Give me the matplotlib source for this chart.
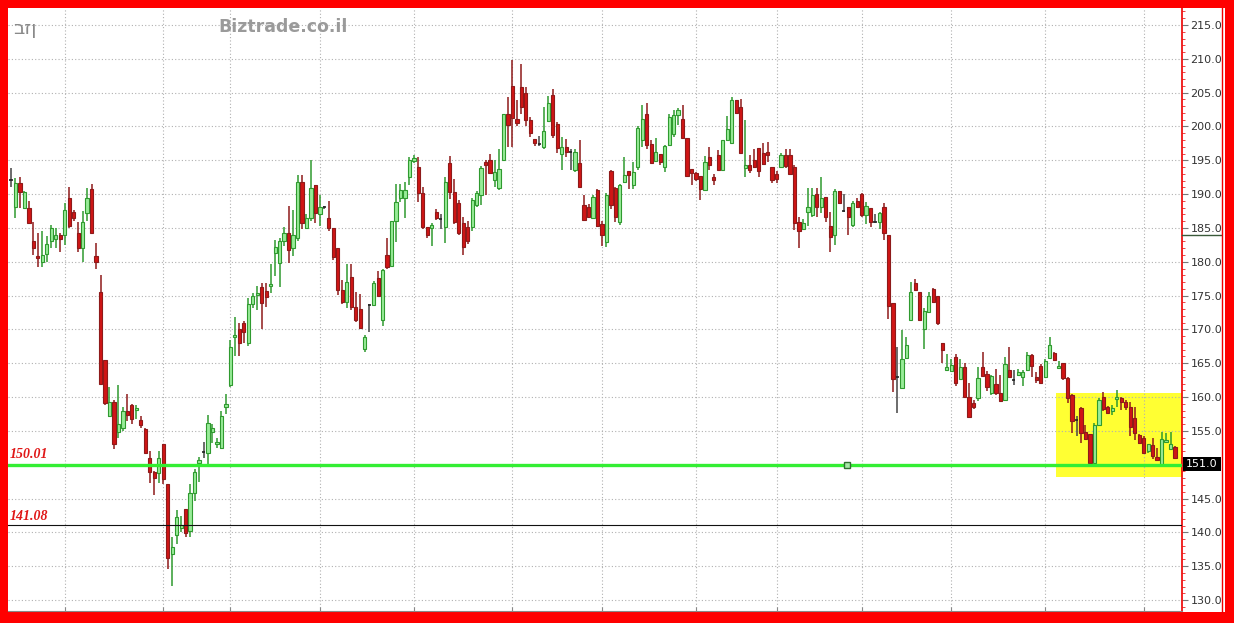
import matplotlib
matplotlib.use('Agg')
import matplotlib.pyplot as plt
from matplotlib.patches import Rectangle
from matplotlib.lines import Line2D
import matplotlib.transforms as mtransforms
import numpy as np

# ---------------- data ----------------
title_he = "בזן"
site = "Biztrade.co.il"
support_level = 150.01
low_level = 141.08
last_label = "151.0"
axis_marker_level = 184.0
box_range = (233.4, 148.2, 160.6)   # start index, low, high of highlighted zone

opens = [192.1,188.1,191.6,188.0,188.0,183.0,180.9,180.0,181.2,183.0,183.3,184.0,184.0,189.4,187.4,184.3,182.0,187.2,190.8,180.8,
         175.5,165.5,157.2,159.3,154.8,155.5,158.0,158.8,158.1,156.6,155.3,151.0,148.9,148.8,153.0,147.1,136.8,139.6,140.6,143.5,
         140.2,145.8,150.3,151.9,151.7,154.9,153.0,152.5,158.5,161.8,168.9,170.0,171.0,168.0,173.8,175.1,176.3,175.7,176.4,181.3,
         179.8,183.0,184.3,182.0,183.5,191.8,185.0,186.5,191.3,187.0,188.1,186.5,185.0,182.0,175.8,174.0,177.8,173.3,173.0,167.1,
         173.6,173.6,177.6,171.4,181.0,179.4,186.0,189.4,189.4,192.5,194.9,194.0,190.2,185.1,185.0,187.4,186.3,185.1,194.6,190.3,
         188.7,185.7,185.1,185.1,188.4,189.9,194.8,195.0,192.1,190.9,195.0,201.8,206.0,201.1,205.8,205.0,201.0,198.1,197.4,196.9,
         200.8,204.7,200.4,196.0,197.0,196.2,193.6,194.6,188.4,188.1,186.5,190.6,185.6,182.9,193.4,190.9,185.9,191.8,193.4,191.3,
         194.0,198.0,201.8,197.4,194.9,196.0,194.0,197.3,198.9,201.7,201.1,198.3,193.7,193.1,192.7,190.6,195.5,192.5,195.8,193.6,
         198.0,197.6,203.9,202.9,193.9,194.3,195.0,196.8,196.1,196.2,194.0,193.0,194.0,195.8,195.8,194.0,185.9,184.8,187.4,186.9,
         190.0,188.1,189.6,185.3,184.0,190.5,187.5,188.1,185.4,189.0,190.0,186.9,187.9,185.9,185.9,188.1,184.0,173.9,163.0,161.3,
         165.8,171.4,176.9,175.5,170.0,172.6,176.0,175.0,168.0,164.0,163.9,165.9,162.7,164.4,160.0,159.1,159.9,164.4,163.4,160.6,
         162.0,160.6,159.6,164.0,162.5,163.3,163.0,164.0,166.2,163.0,164.6,163.0,165.8,166.5,164.3,165.0,162.8,160.3,156.6,158.4,
         154.8,154.5,150.3,155.9,160.0,158.5,158.0,159.7,159.9,159.3,158.5,156.9,154.4,154.0,152.0,152.9,151.1,150.0,153.4,152.3,
         152.6]
highs = [193.9,192.4,192.5,190.5,189.0,185.9,184.3,184.5,183.8,185.5,185.0,184.2,188.7,191.0,187.6,185.9,187.5,190.9,191.5,182.8,
         178.0,165.5,161.5,159.5,161.8,158.6,160.5,159.0,158.8,157.2,155.5,152.0,149.0,152.0,153.0,147.1,139.3,143.3,142.4,143.5,
         147.2,149.4,151.2,153.4,157.4,156.0,154.0,157.9,160.5,168.5,171.9,171.0,171.2,174.7,175.4,176.4,176.9,176.9,179.6,183.2,
         183.5,185.2,188.3,187.7,192.8,192.8,187.0,195.0,191.3,189.8,188.3,189.0,185.0,182.0,177.3,179.7,179.7,175.5,175.3,169.2,
         173.8,177.1,178.6,179.0,183.5,186.1,191.5,191.5,191.8,195.5,195.8,195.5,191.0,185.1,185.7,187.8,187.0,192.5,195.6,192.3,
         189.1,186.6,186.1,189.4,190.5,194.1,195.1,196.0,195.1,196.6,201.8,204.3,209.8,203.9,209.3,205.9,201.4,198.1,198.6,202.9,
         204.5,205.6,200.6,198.5,198.2,196.7,196.7,198.0,189.8,188.5,189.8,190.8,186.1,190.1,193.5,191.1,191.5,195.5,193.4,194.7,
         200.1,203.2,203.5,198.0,198.3,196.0,197.2,201.9,202.4,202.7,203.1,198.3,193.7,193.3,192.7,195.7,196.9,193.0,196.5,198.0,
         201.5,204.3,203.9,204.0,200.9,195.8,196.7,196.8,197.5,197.7,194.0,193.4,196.1,196.7,196.7,194.3,186.6,186.3,190.9,190.9,
         190.9,192.5,189.6,187.4,190.8,190.5,190.0,188.1,189.0,189.4,190.1,188.8,187.9,187.1,187.4,188.7,184.0,173.9,167.4,169.9,
         168.9,177.0,177.4,175.6,173.1,175.6,176.1,175.0,168.0,166.3,165.6,166.3,165.6,165.0,162.1,159.5,164.4,166.6,163.9,163.2,
         164.1,163.3,165.9,167.4,164.0,164.2,164.0,166.7,166.4,163.7,164.9,165.6,168.9,166.6,165.4,165.1,162.9,160.5,157.2,158.6,
         155.9,154.6,156.2,159.8,160.7,158.7,158.9,161.0,160.0,159.5,159.2,158.5,154.6,154.3,153.1,153.9,152.5,154.9,154.7,154.8,
         152.7]
lows = [191.1,186.5,188.0,187.8,185.8,181.0,179.2,179.3,180.0,182.0,182.0,181.5,182.5,185.0,186.0,181.5,180.0,186.0,184.2,179.0,
        162.0,158.8,157.0,152.3,154.0,155.0,156.5,156.0,156.8,155.5,151.7,147.3,145.5,147.3,147.2,134.6,132.1,138.3,140.1,139.3,
        139.3,144.7,147.5,151.0,150.0,153.2,152.5,152.3,157.5,161.5,166.0,166.1,168.0,167.5,173.2,172.9,170.0,173.3,175.4,177.9,
        176.3,182.3,179.8,180.8,183.0,184.9,184.8,186.0,185.8,185.3,187.8,184.6,180.2,175.1,173.7,173.2,172.8,171.1,170.0,166.6,
        169.6,173.4,174.9,170.5,178.9,179.3,182.9,188.9,186.4,191.4,194.6,188.8,184.8,183.5,182.4,186.2,184.9,182.8,189.3,185.6,
        184.0,181.0,182.7,184.6,188.1,188.4,189.9,193.0,191.1,190.6,195.0,197.0,197.0,200.1,201.9,200.1,198.5,197.1,197.1,196.7,
        200.6,198.3,196.1,193.6,195.5,193.5,193.3,191.0,186.0,186.4,186.3,185.2,182.3,182.2,187.8,185.9,185.5,191.6,190.7,190.8,
        193.6,196.9,196.6,194.6,194.8,194.3,193.2,197.1,198.4,200.2,198.1,192.7,191.3,192.0,189.1,190.6,193.6,191.3,193.5,193.4,
        197.8,197.4,201.8,196.0,192.5,193.1,193.8,192.6,194.3,194.8,191.6,191.6,193.9,193.9,192.9,184.7,182.0,184.7,185.3,186.6,
        186.6,187.2,185.9,181.4,182.5,188.5,187.3,183.9,185.1,188.0,186.6,185.6,185.2,185.8,184.8,183.2,171.5,160.8,157.6,161.3,
        165.6,171.4,175.7,171.4,167.1,172.6,173.9,170.6,165.1,164.0,163.8,161.6,162.7,160.0,157.1,158.3,159.4,163.1,160.9,160.3,
        160.3,159.4,159.6,162.8,161.8,163.1,161.6,163.9,162.9,162.1,162.0,162.8,165.7,165.4,164.3,162.5,159.1,154.7,154.3,153.2,
        153.7,149.6,150.2,155.8,157.9,157.5,157.3,158.5,158.1,158.1,154.2,153.7,153.0,151.6,151.8,150.9,150.5,149.7,153.3,152.2,
        151.0]
closes = [192.1,191.6,190.3,190.3,185.8,182.0,180.6,181.0,182.6,185.0,184.0,183.3,187.7,185.3,186.5,182.0,185.9,189.4,184.3,180.0,
          162.0,159.1,159.3,153.0,156.0,158.0,157.4,156.8,158.4,155.9,151.7,148.9,148.0,151.0,147.9,136.2,137.8,142.3,141.1,139.9,
          145.8,148.9,150.7,151.9,156.2,155.4,153.4,157.2,159.0,167.4,169.2,168.0,169.6,173.8,175.0,175.4,173.9,174.8,176.7,182.2,
          183.0,184.3,181.7,184.0,191.8,185.7,186.5,190.9,187.2,188.1,188.1,185.0,180.7,175.8,174.0,177.0,173.3,171.4,170.2,168.9,
          173.6,176.9,175.0,178.8,179.2,186.0,188.8,190.6,190.6,195.0,195.3,190.2,185.1,184.0,185.4,186.5,186.3,191.8,190.3,185.9,
          184.3,182.2,183.0,189.1,190.2,193.9,194.3,193.1,193.3,193.7,201.8,200.2,201.2,200.5,202.9,201.0,199.0,197.6,197.4,199.3,
          203.5,198.7,196.8,197.0,196.2,196.2,196.2,191.0,186.2,186.6,189.6,185.3,184.0,189.9,188.4,186.6,191.3,192.8,192.8,193.3,
          199.8,201.1,197.3,194.6,196.2,194.8,197.1,201.4,201.7,202.4,198.3,192.7,193.1,192.2,190.8,194.8,194.3,192.1,193.6,198.0,
          199.6,203.9,202.0,196.1,194.3,193.6,194.0,193.4,194.5,195.8,192.1,192.2,195.8,194.2,193.0,185.7,184.5,185.7,188.1,189.9,
          188.1,189.4,186.6,183.7,190.5,188.7,187.5,186.6,188.7,188.1,186.9,188.2,185.9,185.9,187.2,184.3,173.5,162.6,163.0,165.6,
          167.7,175.5,175.8,171.4,172.7,175.0,174.1,171.0,167.0,164.4,164.7,162.1,164.4,160.0,157.1,158.5,162.8,163.1,161.5,163.1,
          160.6,159.4,164.9,163.0,162.5,163.7,163.7,166.2,164.6,162.5,162.1,165.3,167.7,165.5,164.6,162.8,159.8,156.5,156.6,154.7,
          153.8,150.3,155.9,159.6,158.2,157.7,158.4,160.0,159.3,158.5,155.6,154.7,153.2,151.7,153.0,151.3,150.7,153.8,153.7,153.1,
          151.0]
month_starts = [12, 34, 49, 69, 90, 112, 132, 153, 171, 190, 210, 231, 253]
y_ticks = list(range(130, 216, 5))
hidden_tick = 150   # covered by the last-price box

# ---------------- figure ----------------
W, H = 1234, 623
fig = plt.figure(figsize=(W / 100, H / 100), dpi=100)
fig.patch.set_facecolor('#ff0000')
fig.add_artist(Rectangle((8 / W, 11 / H), (1225 - 8) / W, (615 - 11) / H,
                         transform=fig.transFigure, facecolor='white',
                         edgecolor='none', zorder=0))
ax = fig.add_axes([8 / W, 12 / H, (1182 - 8) / W, (615 - 12) / H])
ax.set_facecolor('white')

n = len(closes)
x = np.arange(n)
o = np.array(opens); h = np.array(highs); l = np.array(lows); c = np.array(closes)

ax.set_xlim(-0.67, 261.56)
ax.set_ylim(128.38, 217.51)

# highlight zone
bx, blo, bhi = box_range
ax.add_patch(Rectangle((bx, blo), 261.56 - bx, bhi - blo, facecolor='#ffff33',
                       edgecolor='none', zorder=0.2))

# grid
ax.set_yticks(y_ticks)
ax.set_xticks(month_starts)
ax.grid(True, color='#b0b0b0', linestyle=(0, (1, 2)), linewidth=0.8, zorder=0.5)
ax.set_axisbelow(True)

up = c > o
down = c < o
flat = c == o
up_face, up_edge = '#98ec98', '#2f9a2f'
dn_face, dn_edge = '#d01515', '#8e1a1a'

ax.vlines(x[up], l[up], h[up], color=up_edge, linewidth=1.1, zorder=2)
ax.vlines(x[down], l[down], h[down], color=dn_edge, linewidth=1.1, zorder=2)
ax.vlines(x[flat], l[flat], h[flat], color='#444444', linewidth=1.1, zorder=2)
bw = 0.72
ax.bar(x[up], (c - o)[up], bottom=o[up], width=bw, color=up_face,
       edgecolor=up_edge, linewidth=0.8, zorder=3)
ax.bar(x[down], (o - c)[down], bottom=c[down], width=bw, color=dn_face,
       edgecolor=dn_edge, linewidth=0.8, zorder=3)
ax.hlines(c[flat], x[flat] - bw / 2, x[flat] + bw / 2, color='#222222',
          linewidth=1.2, zorder=3)

# horizontal levels
ax.axhline(support_level, color='#33ee33', linewidth=2.4, zorder=4)
ax.axhline(low_level, color='#111111', linewidth=0.8, zorder=4)
ax.plot([186.7], [support_level], marker='s', markersize=5,
        markerfacecolor='#a8e8a8', markeredgecolor='#2f6f2f', zorder=5)

# axes styling
for s in ['left', 'top']:
    ax.spines[s].set_visible(False)
ax.spines['bottom'].set_color('#888888')
ax.spines['bottom'].set_linewidth(0.8)
ax.spines['right'].set_color('#ee0000')
ax.spines['right'].set_linewidth(1.2)
ax.yaxis.tick_right()
ax.set_yticklabels(["" if v == hidden_tick else f"{v:.1f}" for v in y_ticks])
ax.tick_params(axis='y', which='major', length=4, width=0.8, color='#777777',
               pad=2, labelsize=8, labelcolor='#333333')
ax.set_yticks(np.arange(129, 218, 1), minor=True)
ax.tick_params(axis='y', which='minor', length=2, width=0.7, color='#ee4444')
ax.tick_params(axis='x', which='major', length=3, color='#888888',
               labelbottom=False, direction='in')

# level labels on the left
fig.text(10 / W, 1 - 455 / H, f"{support_level:.2f}", color='#e01818',
         fontsize=10, fontstyle='italic', fontweight='bold',
         family='Liberation Serif', va='center', ha='left')
fig.text(10 / W, 1 - 516 / H, f"{low_level:.2f}", color='#e01818',
         fontsize=10, fontstyle='italic', fontweight='bold',
         family='Liberation Serif', va='center', ha='left')

# right axis extras
trans = mtransforms.blended_transform_factory(ax.transAxes, ax.transData)
x_end = (1221 - 8) / (1182 - 8)
ax.plot([1.0, x_end], [axis_marker_level, axis_marker_level], color='#3a5a3a',
        linewidth=1.0, transform=trans, clip_on=False, zorder=6)
ax.add_patch(Rectangle((1.001, 149.07), x_end - 1.001, 2.08, transform=trans,
                       facecolor='black', edgecolor='none', clip_on=False, zorder=6))
ax.text((1.001 + x_end) / 2, 150.11, last_label, transform=trans, color='white',
        fontsize=8, ha='center', va='center', zorder=7, clip_on=False)
fig.add_artist(Line2D([1221.5 / W, 1221.5 / W], [11 / H, 615 / H],
                      transform=fig.transFigure, color='#ee0000', linewidth=1.0))

# header texts
fig.text(25 / W, 1 - 28 / H, title_he, color='#8a8a8a', fontsize=14,
         fontweight='normal', family='DejaVu Sans', ha='center', va='center')
fig.text(218 / W, 1 - 27 / H, site, color='#9a9a9a', fontsize=12.5,
         fontweight='bold', family='DejaVu Sans', ha='left', va='center')

fig.savefig('out.png', dpi=100, facecolor=fig.get_facecolor())
